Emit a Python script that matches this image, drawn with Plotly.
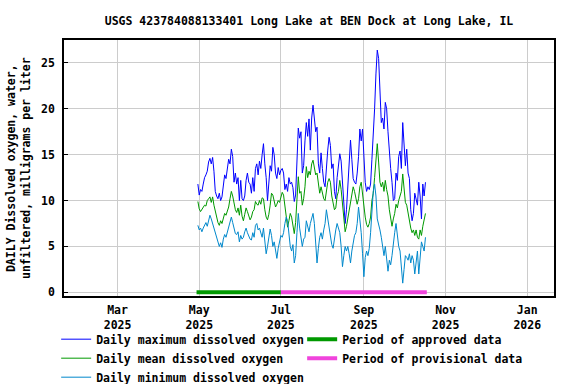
import pandas as pd
import plotly.graph_objects as go

title = "USGS 423784088133401 Long Lake at BEN Dock at Long Lake, IL"
y_title = "DAILY Dissolved oxygen, water,<br>unfiltered, milligrams per liter"

start_date = "2025-04-30"

daily_max = [11.8, 10.6, 11.2, 11.0, 11.8, 12.5, 12.8, 13.2, 14.2, 14.6,
             14.0, 14.7, 13.2, 11.0, 10.5, 10.2, 10.8, 10.0, 10.4, 11.5,
             12.8, 12.4, 13.8, 14.5, 14.0, 15.6, 14.8, 12.0, 13.0, 11.8,
             12.5, 10.0, 12.2, 10.2, 10.0, 10.5, 12.2, 13.0, 12.0, 11.8,
             10.8, 12.5, 11.0, 13.5, 14.0, 12.8, 14.3, 13.5, 15.0, 16.2,
             14.0, 12.5, 10.0, 12.6, 13.8, 13.2, 15.8, 15.0, 13.0, 12.4,
             13.6, 12.8, 13.3, 13.5, 13.0, 11.2, 11.8, 11.0, 12.5, 11.8,
             12.0, 11.4, 9.9, 10.6, 14.5, 17.9, 16.8, 17.5, 13.0, 13.8,
             16.5, 18.5, 17.0, 18.9, 15.5, 19.0, 20.4, 19.0, 17.5, 18.0,
             14.0, 13.0, 15.2, 13.5, 12.0, 11.5, 14.0, 15.5, 16.9, 16.0,
             13.5, 14.0, 11.0, 10.2, 12.5, 14.0, 15.1, 14.3, 12.0, 10.8,
             7.5, 9.0, 11.5, 13.0, 16.6, 14.5, 12.4, 12.0, 11.8, 13.0,
             14.8, 17.8, 16.5, 17.8, 15.0, 12.0, 11.0, 11.5, 11.2, 11.8,
             14.5, 17.0, 20.0, 23.8, 26.4, 25.5, 22.5, 18.5, 19.0, 17.8,
             20.7, 20.0, 17.5, 14.8, 13.5, 12.0, 10.0, 10.2, 13.0, 12.2,
             14.8, 15.4, 13.5, 18.5, 16.0, 13.8, 15.6, 13.0, 12.4, 9.0,
             7.8, 8.6, 10.8, 10.2, 9.5, 12.0, 10.5, 8.0, 11.8, 10.5,
             12.0]

daily_mean = [9.9, 9.1, 8.8, 9.0, 9.2, 9.5, 9.4, 10.0, 10.2, 10.4,
              9.8, 10.4, 9.5, 8.8, 8.0, 7.6, 7.3, 7.8, 7.5, 8.0,
              8.6, 8.4, 8.8, 9.3, 10.2, 11.0, 10.5, 9.5, 9.0, 8.7,
              9.2, 8.4, 9.5, 8.3, 7.8, 8.5, 9.2, 8.8, 8.3, 7.9,
              8.2, 8.8, 9.0, 9.9, 9.6, 9.5, 10.0, 9.6, 10.3, 10.2,
              9.0, 8.2, 7.9, 8.5, 9.5, 10.8, 10.6, 10.0, 9.3, 9.6,
              10.0, 9.8, 10.5, 10.9, 10.6, 9.2, 8.0, 7.1, 7.8, 8.6,
              8.2, 7.0, 6.4, 7.6, 10.0, 12.6, 10.8, 11.0, 9.5, 10.2,
              11.5, 13.7, 12.5, 13.2, 12.8, 14.0, 14.4, 13.6, 12.8, 13.0,
              11.8, 10.8, 11.5, 10.6, 10.2, 10.0, 11.0, 12.0, 12.4, 12.0,
              10.5, 9.6, 9.0, 9.2, 10.5, 11.0, 12.2, 11.2, 9.5, 8.2,
              6.6, 7.2, 8.0, 9.0, 10.0, 10.6, 11.5, 11.0, 10.2, 9.6,
              10.2, 11.5, 12.0, 10.5, 9.2, 8.2, 7.4, 7.1, 7.5, 8.2,
              10.0, 10.8, 12.5, 14.5, 16.2, 14.2, 12.0, 11.5, 12.0, 11.0,
              12.2, 11.2, 10.5, 9.0, 7.8, 7.2, 8.0, 8.6, 9.6, 9.2,
              10.0, 10.5, 11.0, 12.9, 11.5, 9.8, 9.5, 8.5, 7.8, 7.0,
              6.5, 6.8, 6.2, 6.8, 6.0, 5.8, 6.8, 6.2, 7.2, 7.8,
              8.6]

daily_min = [7.3, 6.8, 7.0, 6.6, 7.0, 7.4, 7.6, 7.2, 8.0, 8.4,
             8.0, 7.5, 7.0, 6.5, 6.0, 5.5, 5.0, 5.4, 4.9, 5.8,
             6.3, 6.0, 6.6, 7.0, 7.5, 8.2, 7.6, 7.0, 6.4, 6.3,
             6.6, 5.5, 6.2, 5.8, 6.0, 6.6, 7.0, 6.5, 6.2, 5.8,
             5.7, 6.5, 6.0, 7.3, 7.5, 6.8, 7.0, 6.4, 6.0, 7.0,
             5.5, 4.2, 5.0, 6.0, 6.9, 6.2, 5.0, 5.5, 4.5, 3.7,
             4.8, 5.5, 6.2, 6.0, 6.5, 7.5, 8.2, 7.8, 6.5, 5.0,
             4.5, 5.2, 3.2, 4.0, 6.5, 8.6, 7.0, 6.0, 5.0, 5.8,
             6.0, 7.8, 7.0, 6.6, 7.5, 8.0, 8.6, 7.5, 5.5, 3.2,
             4.8, 6.0, 6.5, 5.8, 6.8, 7.5, 9.0, 8.0, 7.0, 6.0,
             5.2, 4.8, 6.0, 6.8, 7.5, 7.0, 6.5, 5.0, 2.8, 4.0,
             5.0, 4.5, 5.0, 4.2, 3.2, 4.5, 5.5, 6.2, 6.5, 7.5,
             9.3, 8.0, 6.5, 4.2, 1.7, 3.8, 4.5, 4.0, 4.8, 6.5,
             8.5, 11.0, 11.8, 10.5, 8.0, 7.5, 6.8, 6.0, 5.0, 4.0,
             5.0, 3.5, 2.3, 3.5, 3.0, 4.0, 5.5, 6.5, 7.5, 6.0,
             5.0, 4.5, 3.0, 1.0, 2.5, 4.0, 3.8, 3.5, 4.2, 3.2,
             4.0, 3.5, 2.0, 3.5, 4.5, 2.0, 4.0, 5.5, 5.0, 4.5,
             6.0]

approved_period = ["2025-04-29", "2025-07-01"]
provisional_period = ["2025-07-01", "2025-10-18"]
period_level = [0, 0]

tick_dates = ["2025-03-01", "2025-05-01", "2025-07-01", "2025-09-01", "2025-11-01", "2026-01-01"]
tick_labels = ["Mar<br>2025", "May<br>2025", "Jul<br>2025", "Sep<br>2025", "Nov<br>2025", "Jan<br>2026"]
y_ticks = [0, 5, 10, 15, 20, 25]

dates = pd.date_range(start_date, periods=len(daily_max), freq="D")

FONT = dict(family="DejaVu Sans Mono", size=11.5, color="black", weight="bold")

fig = go.Figure()
fig.add_trace(go.Scatter(x=dates, y=daily_max, mode="lines", line=dict(color="#0000ff", width=1),
                         name="Daily maximum dissolved oxygen"))
fig.add_trace(go.Scatter(x=approved_period, y=period_level, mode="lines", line=dict(color="#009900", width=4),
                         name="Period of approved data"))
fig.add_trace(go.Scatter(x=dates, y=daily_mean, mode="lines", line=dict(color="#009900", width=1),
                         name="Daily mean dissolved oxygen"))
fig.add_trace(go.Scatter(x=provisional_period, y=period_level, mode="lines", line=dict(color="#f044dc", width=4),
                         name="Period of provisional data"))
fig.add_trace(go.Scatter(x=dates, y=daily_min, mode="lines", line=dict(color="#0088cc", width=1),
                         name="Daily minimum dissolved oxygen"))

fig.update_layout(
    width=576, height=384,
    margin=dict(l=64, r=22, t=40, b=88, autoexpand=False),
    paper_bgcolor="white", plot_bgcolor="white",
    font=FONT,
    title=dict(text=title, xref="paper", x=0.5, xanchor="center", y=0.946, yanchor="middle", font=FONT),
    showlegend=True,
    legend=dict(orientation="h", x=-0.016, xanchor="left", y=-0.112, yanchor="top",
                entrywidth=201, font=FONT, tracegroupgap=0, itemwidth=30, bgcolor="rgba(0,0,0,0)"),
    annotations=[dict(text=y_title, xref="paper", yref="paper", x=-0.0939, y=0.5,
                      xanchor="center", yanchor="middle", textangle=-90, showarrow=False, font=FONT)],
)
fig.update_xaxes(
    type="date", range=["2025-01-20", "2026-01-21"],
    tickvals=tick_dates, ticktext=tick_labels,
    showgrid=True, gridcolor="#cccccc", gridwidth=1,
    showline=True, linecolor="black", linewidth=1.5, mirror=True,
    ticks="", tickfont=FONT, zeroline=False, ticklabelstandoff=2,
)
fig.update_yaxes(
    range=[-0.4, 27.5], tickvals=y_ticks,
    showgrid=True, gridcolor="#cccccc", gridwidth=1,
    showline=True, linecolor="black", linewidth=1.5, mirror=True,
    ticks="inside", ticklen=4, tickcolor="black", tickfont=FONT, zeroline=False,
    ticklabelstandoff=5,
)

fig.write_html("out.html", config={"displayModeBar": False},
               post_script="document.body.style.margin='0';document.body.style.overflow='hidden';")
